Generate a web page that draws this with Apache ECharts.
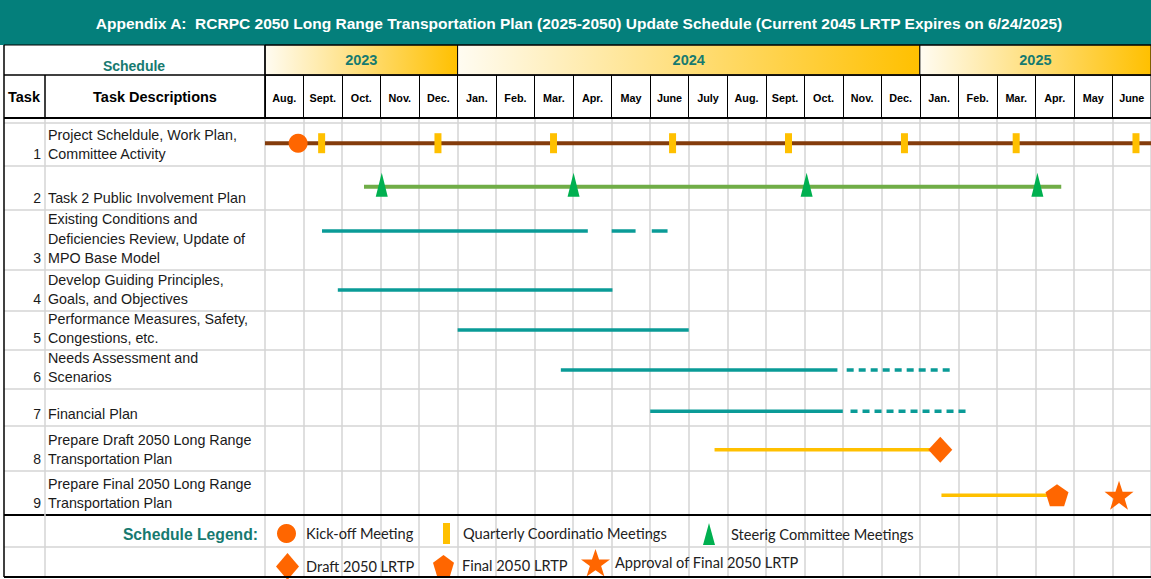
<!DOCTYPE html>
<html>
<head>
<meta charset="utf-8">
<title>RCRPC 2050 LRTP Update Schedule</title>
<script src="https://cdn.jsdelivr.net/npm/echarts@6/dist/echarts.min.js"></script>
<style>
  html, body { margin: 0; padding: 0; background: #fff; }
  #chart { width: 1151px; height: 579px; }
</style>
</head>
<body>
<div id="chart"></div>
<script>
// ---- data ----
const months = ['Aug.', 'Sept.', 'Oct.', 'Nov.', 'Dec.',
  'Jan.', 'Feb.', 'Mar.', 'Apr.', 'May', 'June', 'July', 'Aug.', 'Sept.', 'Oct.', 'Nov.', 'Dec.',
  'Jan.', 'Feb.', 'Mar.', 'Apr.', 'May', 'June'];
const years = ['2023', '2024', '2025'];
// month index where each year block starts / ends
const yearSpans = [[0, 5], [5, 17], [17, 23]];

const taskNumbers = [1, 2, 3, 4, 5, 6, 7, 8, 9];
const taskDescriptions = [
  'Project Scheldule, Work Plan,\nCommittee Activity',
  'Task 2 Public Involvement Plan',
  'Existing Conditions and\nDeficiencies Review, Update of\nMPO Base Model',
  'Develop Guiding Principles,\nGoals, and Objectives',
  'Performance Measures, Safety,\nCongestions, etc.',
  'Needs Assessment and\nScenarios',
  'Financial Plan',
  'Prepare Draft 2050 Long Range\nTransportation Plan',
  'Prepare Final 2050 Long Range\nTransportation Plan'
];

// x = months counted from start of Aug. 2023; [task, start, end]
const plannedWork = [
  [1, 0, 23], [2, 2.57, 20.67],
  [3, 1.48, 8.38], [3, 9.0, 9.62], [3, 10.04, 10.45],
  [4, 1.89, 9.02], [5, 5.0, 11.0], [6, 7.68, 14.86], [7, 10.0, 15.0],
  [8, 11.67, 17.45], [9, 17.56, 20.4]
];
const tentativeWork = [[6, 15.1, 17.84], [7, 15.2, 18.28]];

// milestones: [task, month]
const kickoff = [[1, 0.86]];
const quarterly = [[1, 1.47], [1, 4.49], [1, 7.49], [1, 10.58], [1, 13.59], [1, 16.6], [1, 19.5], [1, 22.61]];
const steering = [[2, 3.03], [2, 8.01], [2, 14.06], [2, 20.05]];
const draftPlan = [[8, 17.53]];
const finalPlan = [[9, 20.56]];
const approval = [[9, 22.17]];

// ---- layout ----
const W = 1151;
const gridLeft = 265;
const bodyTop = 118;
// spacer row, 9 task rows, 2 legend rows
const rowHeights = [5, 43, 44, 60, 41, 39, 39, 37, 45, 44, 32, 30];
const lineAt = [0, .47, .47, .35, .49, .49, .51, .6, .53, .55];
const rowTop = [];
let acc = 0;
rowHeights.forEach((h, i) => { rowTop[i] = acc; acc += h; });
const bodyHeight = acc;
const lineY = t => rowTop[t] + rowHeights[t] * lineAt[t];

const TEAL = '#0A9B97';
const taskColor = {1: '#843C0C', 2: '#70AD47', 3: TEAL, 4: TEAL, 5: TEAL, 6: TEAL, 7: TEAL, 8: '#FFC000', 9: '#FFC000'};
const taskWidth = {1: 4, 2: 4, 8: 3.5, 9: 3.5};
const ORANGE = '#FF6600';
const pentagon = 'path://M50,0 L100,37 L81,100 L19,100 L0,37 Z';
const star = 'path://M50,0 L61.8,35 L98,35 L68.6,56.6 L79.6,91 L50,70 L20.4,91 L31.4,56.6 L2,35 L38.2,35 Z';

const ARIAL = '"Liberation Sans", Arial, sans-serif';
const CALIBRI = 'Lato, "Open Sans", sans-serif';
const headTeal = '#177A70';

// ---- table decoration ----
const graphic = [];
function hline(y, x1, x2, color, w) {
  graphic.push({type: 'line', silent: true, z: 50, shape: {x1: x1, y1: y, x2: x2, y2: y}, style: {stroke: color, lineWidth: w}});
}
function vline(x, y1, y2, color, w) {
  graphic.push({type: 'line', silent: true, z: 50, shape: {x1: x, y1: y1, x2: x, y2: y2}, style: {stroke: color, lineWidth: w}});
}
function text(x, y, str, font, fill, align, valign) {
  graphic.push({type: 'text', silent: true, z: 60, x: x, y: y,
    style: {text: str, font: font, fill: fill, align: align || 'left', verticalAlign: valign || 'middle', lineHeight: 19.5}});
}

graphic.push({type: 'rect', silent: true, z: 1, shape: {x: 0, y: 0, width: W, height: 45}, style: {fill: '#047F7B'}});
text(579, 23, 'Appendix A:  RCRPC 2050 Long Range Transportation Plan (2025-2050) Update Schedule (Current 2045 LRTP Expires on 6/24/2025)',
  'bold 15.5px ' + ARIAL, '#fff', 'center');
text(134, 66, 'Schedule', 'bold 14px ' + ARIAL, headTeal, 'center');
text(24, 97, 'Task', 'bold 14.5px ' + ARIAL, '#000', 'center');
text(155, 97, 'Task Descriptions', 'bold 14.5px ' + ARIAL, '#000', 'center');

// body rows
for (let i = 1; i < rowHeights.length; i++) {
  const y = bodyTop + rowTop[i];
  const black = (i === 10);
  hline(y, 4, W, black ? '#000' : '#d4d4d4', black ? 2 : 1.5);
}
vline(45, bodyTop, bodyTop + bodyHeight, '#d4d4d4', 1.5);
taskNumbers.forEach((n, k) => {
  const bottom = bodyTop + rowTop[n] + rowHeights[n] - 2;
  text(41, bottom, String(n), '14px ' + ARIAL, '#1a1a1a', 'right', 'bottom');
  text(48, bottom, taskDescriptions[k], '14.3px ' + ARIAL, '#1a1a1a', 'left', 'bottom');
});
text(258, bodyTop + rowTop[10] + 19, 'Schedule Legend:', 'bold 15.7px ' + ARIAL, headTeal, 'right');

// header borders
hline(45, 4, W, '#000', 1);
hline(75, 4, W, '#000', 1.5);
hline(bodyTop, 4, W, '#000', 2);
hline(bodyTop + bodyHeight, 4, W, '#000', 2);
vline(4, 45, bodyTop + bodyHeight, '#000', 1.5);
vline(45, 75, bodyTop, '#000', 1.5);
vline(gridLeft, 45, bodyTop, '#000', 1.5);

// ---- series ----
function segments(rows, dashed) {
  return {
    type: 'custom',
    xAxisIndex: 0, yAxisIndex: 0,
    silent: true, z: 3,
    data: rows.map(r => [r[0], r[1], r[2], lineY(r[0])]),
    encode: {x: [1, 2], y: 3},
    renderItem: function (params, api) {
      const t = api.value(0);
      const a = api.coord([api.value(1), api.value(3)]);
      const b = api.coord([api.value(2), api.value(3)]);
      return {
        type: 'line',
        shape: {x1: a[0], y1: a[1], x2: b[0], y2: b[1]},
        style: {stroke: taskColor[t], lineWidth: taskWidth[t] || 3.5, lineDash: dashed ? [7, 5] : null}
      };
    }
  };
}
function milestones(name, rows, symbol, size, color, offset) {
  return {
    name: name, type: 'scatter',
    xAxisIndex: 0, yAxisIndex: 0,
    silent: true, z: 5,
    symbol: symbol, symbolSize: size, symbolOffset: offset || [0, 0],
    itemStyle: {color: color, opacity: 1},
    data: rows.map(r => [r[1], lineY(r[0])])
  };
}
function legendItem(name, icon, left, top, w, h, pad, padTop) {
  return {
    data: [{name: name, icon: icon}], left: left, top: top, padding: 0,
    itemWidth: w, itemHeight: h, selectedMode: false,
    textStyle: {fontFamily: CALIBRI, fontSize: 14.6, color: '#222', padding: [padTop, 0, 0, pad]}
  };
}

const option = {
  animation: false,
  backgroundColor: '#fff',
  grid: [
    {left: gridLeft, right: 0, top: bodyTop, height: bodyHeight},
    {left: gridLeft, right: 0, top: 75, height: bodyTop - 75, show: true, borderColor: '#000', borderWidth: 1},
    {left: gridLeft, right: 0, top: 45, height: 30}
  ],
  xAxis: [
    {gridIndex: 0, type: 'value', min: 0, max: 23, interval: 1,
      axisLine: {show: false}, axisTick: {show: false}, axisLabel: {show: false},
      splitLine: {show: true, lineStyle: {color: '#d4d4d4', width: 1.5}}},
    {gridIndex: 1, type: 'category', data: months, position: 'bottom',
      axisLine: {show: false}, axisTick: {show: false},
      axisLabel: {inside: true, interval: 0, margin: 20, verticalAlign: 'middle',
        fontFamily: ARIAL, fontWeight: 'bold', fontSize: 10.8, color: '#000'},
      splitLine: {show: true, interval: 0, lineStyle: {color: '#000', width: 1}}},
    {gridIndex: 2, type: 'value', min: 0, max: 23, show: false}
  ],
  yAxis: [
    {gridIndex: 0, type: 'value', min: 0, max: bodyHeight, inverse: true, show: false},
    {gridIndex: 1, type: 'value', min: 0, max: 1, show: false},
    {gridIndex: 2, type: 'value', min: 0, max: 1, show: false}
  ],
  legend: [
    legendItem('Kick-off Meeting', 'circle', 277, 524, 19, 19, 5, 5),
    legendItem('Quarterly Coordinatio Meetings', 'rect', 443, 523, 7, 21, 8, 5),
    legendItem('Steerig Committee Meetings', 'triangle', 703, 523, 12, 22, 11, 5),
    legendItem('Draft 2050 LRTP', 'diamond', 276, 553, 23, 27, 2, 2),
    legendItem('Final 2050 LRTP', pentagon, 433, 555, 23, 21, 2, 3),
    legendItem('Approval of Final 2050 LRTP', star, 581, 549, 29, 30, 0, 7)
  ],
  graphic: graphic,
  series: [
    {
      type: 'custom', xAxisIndex: 2, yAxisIndex: 2, silent: true,
      data: yearSpans,
      encode: {x: [0, 1]},
      renderItem: function (params, api) {
        const a = api.coord([api.value(0), 1]);
        const b = api.coord([api.value(1), 0]);
        return {
          type: 'rect',
          shape: {x: a[0], y: a[1], width: b[0] - a[0], height: b[1] - a[1]},
          style: {
            fill: new echarts.graphic.LinearGradient(0, 0, 1, 0, [
              {offset: 0, color: '#FFFCF2'}, {offset: 1, color: '#FFC000'}]),
            stroke: '#000', lineWidth: 1
          },
          textContent: {style: {text: years[params.dataIndex], font: 'bold 14.5px ' + ARIAL, fill: headTeal}},
          textConfig: {position: 'inside'}
        };
      }
    },
    segments(plannedWork, false),
    segments(tentativeWork, true),
    milestones('Kick-off Meeting', kickoff, 'circle', 19, ORANGE),
    milestones('Quarterly Coordinatio Meetings', quarterly, 'rect', [7, 20], '#FFC000'),
    milestones('Steerig Committee Meetings', steering, 'triangle', [12, 24], '#00B050', [0, -2]),
    milestones('Draft 2050 LRTP', draftPlan, 'diamond', [24, 26], ORANGE),
    milestones('Final 2050 LRTP', finalPlan, pentagon, [23, 22], ORANGE),
    milestones('Approval of Final 2050 LRTP', approval, star, [29, 29], ORANGE)
  ]
};

const chart = echarts.init(document.getElementById('chart'), null, {renderer: 'svg'});
chart.setOption(option);
</script>
</body>
</html>
